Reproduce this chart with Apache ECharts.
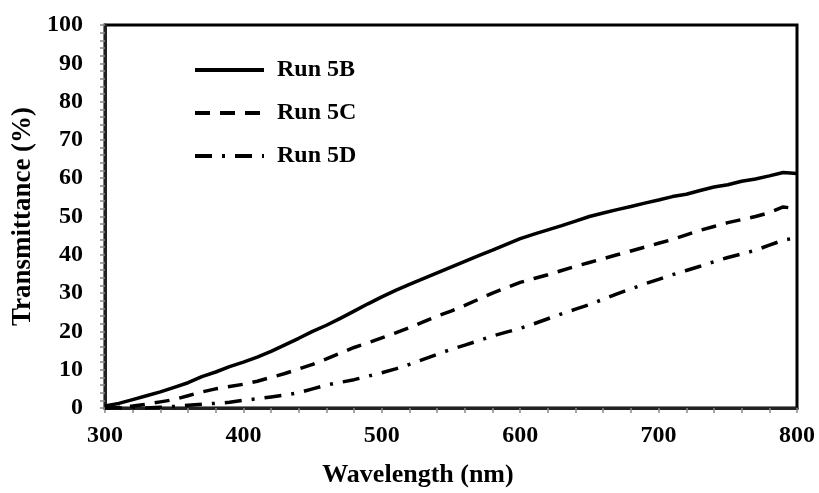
<!DOCTYPE html>
<html>
<head>
<meta charset="utf-8">
<script src="https://cdn.jsdelivr.net/npm/echarts@6/dist/echarts.min.js"></script>
<style>
html,body{margin:0;padding:0;background:#fff;}
#chart{width:819px;height:493px;}
</style>
</head>
<body>
<div id="chart"></div>
<script>
var wavelengths = [300,310,320,330,340,350,360,370,380,390,400,410,420,430,440,450,460,470,480,490,500,510,520,530,540,550,560,570,580,590,600,610,620,630,640,650,660,670,680,690,700,710,720,730,740,750,760,770,780,790,800];
var run5B = [0.5,1.2,2.2,3.2,4.2,5.4,6.6,8.2,9.4,10.8,12.0,13.3,14.8,16.5,18.2,20.0,21.6,23.4,25.3,27.2,29.0,30.7,32.3,33.8,35.3,36.8,38.3,39.8,41.2,42.7,44.2,45.4,46.5,47.6,48.8,50.0,50.9,51.8,52.6,53.5,54.3,55.2,55.8,56.8,57.7,58.3,59.2,59.8,60.6,61.5,61.2];
var run5C = [0.0,0.2,0.5,1.0,1.6,2.2,3.2,4.2,5.0,5.6,6.2,7.0,8.0,9.0,10.2,11.4,12.8,14.3,15.8,17.0,18.3,19.6,21.0,22.5,24.0,25.3,26.8,28.4,30.0,31.4,32.8,33.8,34.8,35.9,37.0,38.0,39.0,40.0,41.0,42.0,43.0,44.0,45.2,46.4,47.4,48.4,49.2,50.0,51.0,52.5,52.0];
var run5D = [0.0,0.0,0.0,0.0,0.2,0.4,0.7,1.0,1.2,1.5,2.0,2.4,2.9,3.4,4.0,5.0,6.0,6.7,7.4,8.3,9.2,10.2,11.4,12.7,14.0,15.3,16.4,17.6,18.8,19.8,20.8,22.0,23.3,24.6,25.8,27.0,28.4,29.8,31.1,32.4,33.6,34.8,35.9,37.0,38.2,39.3,40.2,41.2,42.5,43.8,44.5];
var seriesNames = ['Run 5B','Run 5C','Run 5D'];
var xTitle = 'Wavelength (nm)';
var yTitle = 'Transmittance (%)';

function pairs(ys){ return wavelengths.map(function(x,i){ return [x, ys[i]]; }); }

var font = '"Liberation Serif","Times New Roman",serif';
var chart = echarts.init(document.getElementById('chart'), null, {renderer:'canvas'});
chart.setOption({
  animation: false,
  backgroundColor: '#fff',
  grid: {left:105, right:22, top:25, bottom:84, show:true, borderColor:'#000', borderWidth:3, backgroundColor:'transparent'},
  legend: {
    orient:'vertical', left:193, top:57, padding:0,
    itemWidth:69, itemHeight:20, itemGap:17,
    data: seriesNames,
    itemStyle:{opacity:0, color:'rgba(0,0,0,0)', borderColor:'rgba(0,0,0,0)', borderWidth:0},
    lineStyle:{width:4, color:'#000'},
    textStyle:{fontFamily:font, fontWeight:'bold', fontSize:24, color:'#000', lineHeight:26, padding:[0,0,0,8]}
  },
  xAxis: {
    type:'value', min:300, max:800, interval:100,
    name: xTitle, nameLocation:'middle', nameGap:54,
    nameTextStyle:{fontFamily:font, fontWeight:'bold', fontSize:26, color:'#000', padding:[0,66,0,0]},
    axisLine:{show:true, onZero:false, lineStyle:{color:'#222', width:3}},
    axisTick:{show:true, inside:false, length:5, lineStyle:{color:'#888', width:1.5}},
    minorTick:{show:true, splitNumber:5, length:5, lineStyle:{color:'#888', width:1.5}},
    splitLine:{show:false},
    axisLabel:{fontFamily:font, fontWeight:'bold', fontSize:24, color:'#000', margin:16}
  },
  yAxis: {
    type:'value', min:0, max:100, interval:10,
    name: yTitle, nameLocation:'middle', nameGap:64, nameRotate:90,
    nameTextStyle:{fontFamily:font, fontWeight:'bold', fontSize:27, color:'#000'},
    axisLine:{show:true, onZero:false, lineStyle:{color:'#222', width:3}},
    axisTick:{show:true, inside:false, length:5, lineStyle:{color:'#888', width:1.5}},
    minorTick:{show:true, splitNumber:5, length:5, lineStyle:{color:'#888', width:1.5}},
    splitLine:{show:false},
    axisLabel:{fontFamily:font, fontWeight:'bold', fontSize:24, color:'#000', margin:22}
  },
  series: [
    {name:seriesNames[0], type:'line', data:pairs(run5B), showSymbol:false, symbol:'none',
     lineStyle:{color:'#000', width:3.5, type:'solid'}, itemStyle:{color:'#000'}},
    {name:seriesNames[1], type:'line', data:pairs(run5C), showSymbol:false, symbol:'none',
     lineStyle:{color:'#000', width:3.5, type:[15,10]}, itemStyle:{color:'#000'}},
    {name:seriesNames[2], type:'line', data:pairs(run5D), showSymbol:false, symbol:'none',
     lineStyle:{color:'#000', width:3.5, type:[17,10,3,10]}, itemStyle:{color:'#000'}}
  ]
});
</script>
</body>
</html>
